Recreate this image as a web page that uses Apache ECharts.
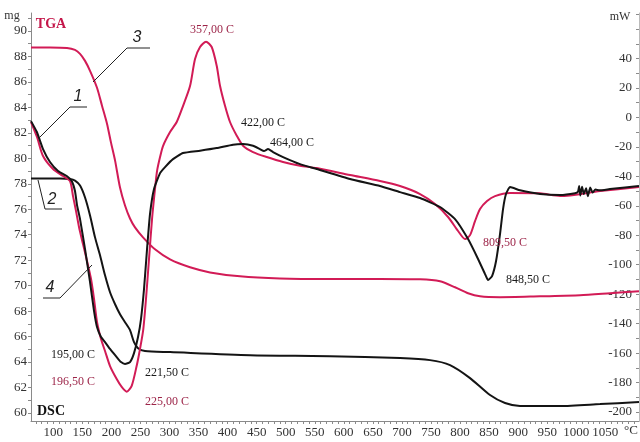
<!DOCTYPE html>
<html><head><meta charset="utf-8">
<script src="https://cdn.jsdelivr.net/npm/echarts@6/dist/echarts.min.js"></script>
<style>html,body{margin:0;padding:0;background:#fff}#c{width:640px;height:442px}</style>
</head><body><div id="c"></div>
<script>
// ---- tick labels ----
const xTickLabels = [100,150,200,250,300,350,400,450,500,550,600,650,700,750,800,850,900,950,1000,1050];
const mgTickLabels = [60,62,64,66,68,70,72,74,76,78,80,82,84,86,88,90];
const mwTickLabels = [-200,-180,-160,-140,-120,-100,-80,-60,-40,-20,0,20,40];

// ---- curve 3 : TGA (red), mg ----
const tgaRedT  = [61.6,94.3,123.6,137.3,146,154.6,163.2,175.2,183.8,192.4,199.3,206.3,214.8,223.4,232,240.6,254.4,275,300.9,335.3,369.7,421.3,490.1,576.1,662.2,731.2,765.6,791.4,813.8,834.4,868.8,937.7,1006.5,1058.1,1108];
const tgaRedMg = [88.71,88.71,88.67,88.51,88.2,87.65,86.87,85.54,84.13,82.72,81.23,79.82,77.7,76.29,75.27,74.57,73.79,72.85,72.06,71.44,71.04,70.73,70.57,70.53,70.53,70.5,70.34,69.87,69.4,69.16,69.09,69.16,69.24,69.4,69.56];

// ---- curve 2 : TGA (black), mg ----
const tgaBlkT  = [61.6,111.5,128.7,137.3,146,154.6,163.2,171.8,180.4,189,197.6,206.3,214.8,223.4,232,238.9,245.8,257.8,300.9,438.6,576.1,696.7,748.4,782.8,817.2,851.6,877.4,903.2,972.1,1040.9,1108];
const tgaBlkMg = [78.41,78.41,78.37,78.25,77.86,76.92,75.51,73.79,72.38,70.81,69.48,68.54,67.75,67.13,66.5,65.56,65.09,64.86,64.78,64.54,64.46,64.31,64.15,63.76,62.74,61.41,60.78,60.55,60.55,60.7,60.86];

// ---- curve 1 : DSC (black), mW ----
const dscBlkT  = [61.6,71.7,82.3,94.3,108.1,123.1,131.7,137.3,140.8,146,154.6,163.2,170.1,175.2,182.1,189,197.6,209.1,216.5,223.4,232,238.9,245.8,250.9,256.1,261.3,266.4,273.3,283.7,292.3,306,323.2,352.5,381.2,409.3,426.5,443.7,455.7,462.6,469.5,478.1,495.4,524.6,553.4,610.7,662.2,696.7,731.2,765.6,791.4,813.8,831,843,848.2,855.1,862,868.8,874,879.1,886,903.2,937.7,972.1,997.9,1003,1005,1007,1010,1013,1017,1020,1024,1028,1033,1040,1058.1,1083.9,1108];
const dscBlkMw = [-2.5,-9.9,-21.5,-30.3,-36.4,-39.8,-43.2,-50.0,-59.5,-69.0,-89.4,-111.8,-131.5,-142.3,-149.1,-152.5,-157.2,-162.7,-166.1,-167.4,-166.1,-160.0,-149.1,-136.9,-116.5,-89.4,-65.6,-48.6,-37.8,-33.7,-28.3,-24.2,-22.6,-20.8,-18.5,-18.1,-19.2,-21.5,-22.8,-21.5,-23.5,-26.9,-31.7,-35.0,-41.8,-46.6,-50.7,-54.7,-60.8,-69.0,-82.6,-96.1,-106.3,-110.4,-107.7,-97.5,-79.2,-62.2,-52.0,-47.3,-49.5,-52.0,-52.7,-51.5,-50.5,-46.5,-53,-47,-52,-48,-53.5,-47.5,-51,-49,-49.5,-48.6,-47.5,-46.6];

// ---- curve 4 : DSC (red), mW ----
const dscRedT  = [61.6,71.9,82.3,99.5,116.7,128.7,133.9,139.1,144.2,151.1,158,164.9,170.1,175.2,182.1,189,197.6,209.1,217.7,226.3,234.9,243.5,249.2,254.9,259.5,264.7,269.9,275,278.5,283.7,288.8,300.9,312.4,323.2,335.3,343.9,352.5,362.8,372.6,381.2,386.9,395.5,404.1,415.7,426.5,443.7,467.3,495.4,524.6,553.4,610.7,662.2,696.7,731.2,757,779.4,796.6,808.6,817.2,825.8,834.4,846.5,860.2,886,937.7,972.1,1040.9,1108];
const dscRedMw = [-3.1,-13.3,-26.2,-35.0,-39.8,-43.2,-53.4,-63.6,-74.4,-86.0,-97.5,-109.7,-123.3,-138.9,-150.5,-158.6,-168.8,-177.6,-183.0,-186.2,-182.2,-168.6,-157.2,-143.7,-123.3,-96.1,-69.0,-48.6,-36.4,-26.9,-19.4,-9.9,-3.1,7.7,21.3,39.6,47.8,51.4,47.8,35.1,21.5,7.9,-3.1,-12.4,-19.2,-23.5,-26.9,-30.3,-32.8,-34.4,-39.1,-43.2,-46.6,-52.0,-58.8,-67.6,-77.1,-82.6,-79.9,-70.4,-62.2,-56.8,-53.4,-51.3,-51.5,-53.4,-50.0,-47.3];

// ---- peak annotations ----
const annTexts = ['357,00 C','422,00 C','464,00 C','195,00 C','196,50 C','221,50 C','225,00 C','809,50 C','848,50 C'];
const annRed   = [true,false,false,false,true,false,true,true,false];

// ---------------- layout / style ----------------
const RED = '#d21b56', BLK = '#141414', ANN_RED = '#9c2448', AX = '#8a8a8a', LBL = '#333';
const SERIF = '"Liberation Serif", "DejaVu Serif", serif';
const annPos = [[212,30],[263,123],[292,143],[73,355],[73,382],[167,373],[167,402],[505,243],[528,280]];

function zip(a,b){ return a.map((v,i)=>[v,b[i]]); }
const xMinor=[]; for(let t=70;t<=1100;t+=10) xMinor.push(t);
const mgMinor=[]; for(let v=60;v<=91;v+=1) mgMinor.push(v);
const mwMinor=[]; for(let v=-200;v<=70;v+=10) mwMinor.push(v);

const chart = echarts.init(document.getElementById('c'), null, {renderer:'canvas'});
const graphic = [];
function txt(s,x,y,opt){ graphic.push(Object.assign({type:'text', x:x, y:y, z:100, style:Object.assign({text:s, align:'center', verticalAlign:'middle', font:'12px '+SERIF, fill:LBL}, opt||{})})); }
function pl(pts){ graphic.push({type:'polyline', z:100, shape:{points:pts}, style:{stroke:'#222', lineWidth:1, fill:null}}); }

annTexts.forEach((s,i)=>txt(s, annPos[i][0], annPos[i][1], {fill: annRed[i]?ANN_RED:'#1a1a1a', font:'12px '+SERIF}));
txt('mg', 12, 16, {font:'12px '+SERIF, fill:LBL});
txt('mW', 620, 17, {font:'12px '+SERIF, fill:LBL});
txt('TGA', 51, 24, {font:'bold 14px '+SERIF, fill:'#c4174a'});
txt('DSC', 51, 411, {font:'bold 14px '+SERIF, fill:'#111'});
txt('°C', 631, 431, {font:'13px '+SERIF, fill:LBL});
const IT = 'italic 16px "Liberation Sans", Arial, sans-serif';
pl([[93,82],[127,48],[150,48]]); txt('3', 137, 38, {font:IT, fill:'#222'});
pl([[40,137],[70,107],[87,107]]); txt('1', 78, 97, {font:IT, fill:'#222'});
pl([[38,180],[45,209],[62,209]]); txt('2', 52, 200, {font:IT, fill:'#222'});
pl([[43,298],[60,298],[92,265]]); txt('4', 50, 288, {font:IT, fill:'#222'});

const lineBase = {type:'line', showSymbol:false, smooth:0.25, animation:false};
chart.setOption({
  animation:false,
  backgroundColor:'#fff',
  textStyle:{fontFamily:SERIF},
  grid:{left:31, right:1, top:13, bottom:21},
  xAxis:{type:'value', min:61.6, max:1108,
    axisLine:{show:true, onZero:false, lineStyle:{color:AX}},
    axisTick:{show:true, customValues:xMinor, length:3, lineStyle:{color:AX}},
    axisLabel:{customValues:xTickLabels, formatter:v=>String(v), margin:5, fontSize:13, color:LBL, fontFamily:SERIF},
    splitLine:{show:false}},
  yAxis:[
    {type:'value', min:59.37, max:91.41, position:'left',
      axisLine:{show:true, onZero:false, lineStyle:{color:AX}},
      axisTick:{show:true, customValues:mgMinor, length:3, lineStyle:{color:AX}},
      axisLabel:{customValues:mgTickLabels, margin:4, fontSize:13, color:LBL, fontFamily:SERIF},
      splitLine:{show:false}},
    {type:'value', min:-206.1, max:70.9, position:'right',
      axisLine:{show:true, onZero:false, lineStyle:{color:'#bbb'}},
      axisTick:{show:true, inside:true, customValues:mwMinor, length:3, lineStyle:{color:AX}},
      axisLabel:{customValues:mwTickLabels, formatter:v=>String(v), inside:true, margin:7, fontSize:13, color:LBL, fontFamily:SERIF},
      splitLine:{show:false}}
  ],
  series:[
    Object.assign({}, lineBase, {name:'TGA 3', yAxisIndex:0, data:zip(tgaRedT,tgaRedMg), lineStyle:{color:RED, width:2}, z:3}),
    Object.assign({}, lineBase, {name:'TGA 2', yAxisIndex:0, data:zip(tgaBlkT,tgaBlkMg), lineStyle:{color:BLK, width:2}, z:3}),
    Object.assign({}, lineBase, {name:'DSC 4', yAxisIndex:1, data:zip(dscRedT,dscRedMw), lineStyle:{color:RED, width:2}, z:4}),
    Object.assign({}, lineBase, {name:'DSC 1', yAxisIndex:1, data:zip(dscBlkT,dscBlkMw), lineStyle:{color:BLK, width:2}, z:5, smooth:0.15})
  ],
  graphic: graphic
});
</script></body></html>
